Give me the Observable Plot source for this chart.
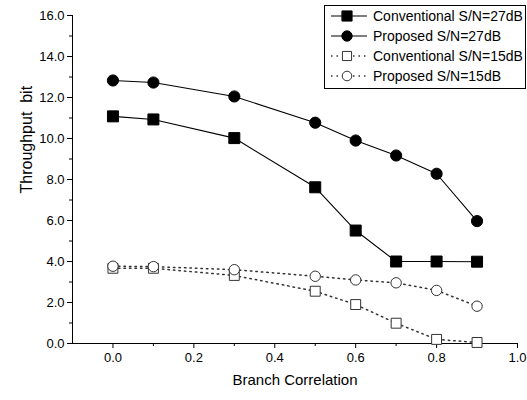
<!DOCTYPE html>
<html><head><meta charset="utf-8">
<script src="https://cdn.jsdelivr.net/npm/d3@7"></script>
<script src="https://cdn.jsdelivr.net/npm/@observablehq/plot@0.6"></script>
<style>
body{margin:0;background:#fff;font-family:"Liberation Sans",Arial,sans-serif;}
#wrap{position:relative;width:527px;height:400px;}
#legend{position:absolute;left:324px;top:5px;width:200px;height:82px;border:1px solid #000;background:#fff;font-size:14px;}
#legend .row{display:flex;align-items:center;height:20px;}
#legend svg{margin-left:6px;margin-right:6px;}
</style></head>
<body><div id="wrap"><div id="chart"></div><div id="legend"></div></div>
<script>
const correlation = [0.0, 0.1, 0.3, 0.5, 0.6, 0.7, 0.8, 0.9];
const conv27 = [11.08, 10.93, 10.02, 7.62, 5.51, 4.0, 4.0, 3.99];
const prop27 = [12.83, 12.73, 12.05, 10.77, 9.9, 9.17, 8.28, 5.97];
const conv15 = [3.67, 3.67, 3.32, 2.55, 1.9, 0.99, 0.2, 0.05];
const prop15 = [3.77, 3.75, 3.6, 3.28, 3.1, 2.96, 2.59, 1.82];
const seriesNames = ["Conventional S/N=27dB", "Proposed S/N=27dB", "Conventional S/N=15dB", "Proposed S/N=15dB"];
const yLabel = "Throughput\u00a0\u00a0bit";
const xLabel = "Branch Correlation";
const yMajor = [0, 2, 4, 6, 8, 10, 12, 14, 16];
const yMinor = [1, 3, 5, 7, 9, 11, 13, 15];
const xMajor = [0.0, 0.2, 0.4, 0.6, 0.8, 1.0];
const xMinor = [0.1, 0.3, 0.5, 0.7, 0.9];

const styles = [
  {symbol: "square", fill: "#000", stroke: "#000", dash: null, r: 6.2, line: "#000"},
  {symbol: "circle", fill: "#000", stroke: "#000", dash: null, r: 5.6, line: "#000"},
  {symbol: "square", fill: "#fff", stroke: "#333", dash: "1.5,4", r: 5.6, line: "#333"},
  {symbol: "circle", fill: "#fff", stroke: "#333", dash: "1.5,4", r: 5.2, line: "#333"}
];
const allSeries = [conv27, prop27, conv15, prop15];
const data = allSeries.flatMap((vals, i) => vals.map((v, j) => ({x: correlation[j], y: v, s: i})));

const marks = [];
[2, 3, 0, 1].forEach(i => {
  const st = styles[i];
  const d = data.filter(p => p.s === i);
  marks.push(Plot.line(d, {x: "x", y: "y", stroke: st.line, strokeWidth: st.dash ? 1.5 : 1.1, strokeDasharray: st.dash}));
});
[2, 3, 0, 1].forEach(i => {
  const st = styles[i];
  const d = data.filter(p => p.s === i);
  marks.push(Plot.dot(d, {x: "x", y: "y", symbol: () => st.symbol, r: st.r, fill: st.fill, stroke: st.stroke, strokeWidth: 1}));
});

const chart = Plot.plot({
  width: 527, height: 400,
  marginLeft: 72, marginRight: 10, marginTop: 15, marginBottom: 57,
  style: {fontFamily: '"Liberation Sans", Arial, sans-serif', fontSize: "13px", color: "#000", background: "#fff"},
  x: {domain: [-0.1, 1.0]},
  y: {domain: [0, 16]},
  symbol: {type: "identity"},
  marks: [
    Plot.axisY(yMajor, {tickFormat: d => d.toFixed(1), tickSize: 5, tickPadding: 3, fontSize: 13, label: null}),
    Plot.axisY(yMinor, {tickFormat: () => "", tickSize: 3, label: null}),
    Plot.axisX(xMajor, {tickFormat: d => d.toFixed(1), tickSize: 5, tickPadding: 4, fontSize: 13, label: null}),
    Plot.axisX(xMinor, {tickFormat: () => "", tickSize: 3, label: null}),
    Plot.ruleX([-0.1], {stroke: "#000", strokeWidth: 1}),
    Plot.ruleY([0], {stroke: "#000", strokeWidth: 1}),
    Plot.text([yLabel], {text: d => d, frameAnchor: "left", rotate: -90, dx: -46, dy: 14, fontSize: 16}),
    Plot.text([xLabel], {text: d => d, frameAnchor: "bottom", dy: 41, fontSize: 15}),
    ...marks
  ]
});
document.getElementById("chart").appendChild(chart);

const legend = d3.select("#legend");
seriesNames.forEach((name, i) => {
  const st = styles[i];
  const row = legend.append("div").attr("class", "row");
  const svg = row.append("svg").attr("width", 36).attr("height", 14);
  svg.append("line").attr("x1", 0).attr("x2", 36).attr("y1", 7).attr("y2", 7)
    .attr("stroke", st.line).attr("stroke-width", st.dash ? 1.5 : 1.1).attr("stroke-dasharray", st.dash);
  const sym = d3.symbol(st.symbol === "square" ? d3.symbolSquare : d3.symbolCircle, st.r * st.r * Math.PI * 0.85)();
  svg.append("path").attr("d", sym).attr("transform", "translate(16,7)")
    .attr("fill", st.fill).attr("stroke", st.stroke);
  row.append("span").text(name);
});
</script></body></html>
